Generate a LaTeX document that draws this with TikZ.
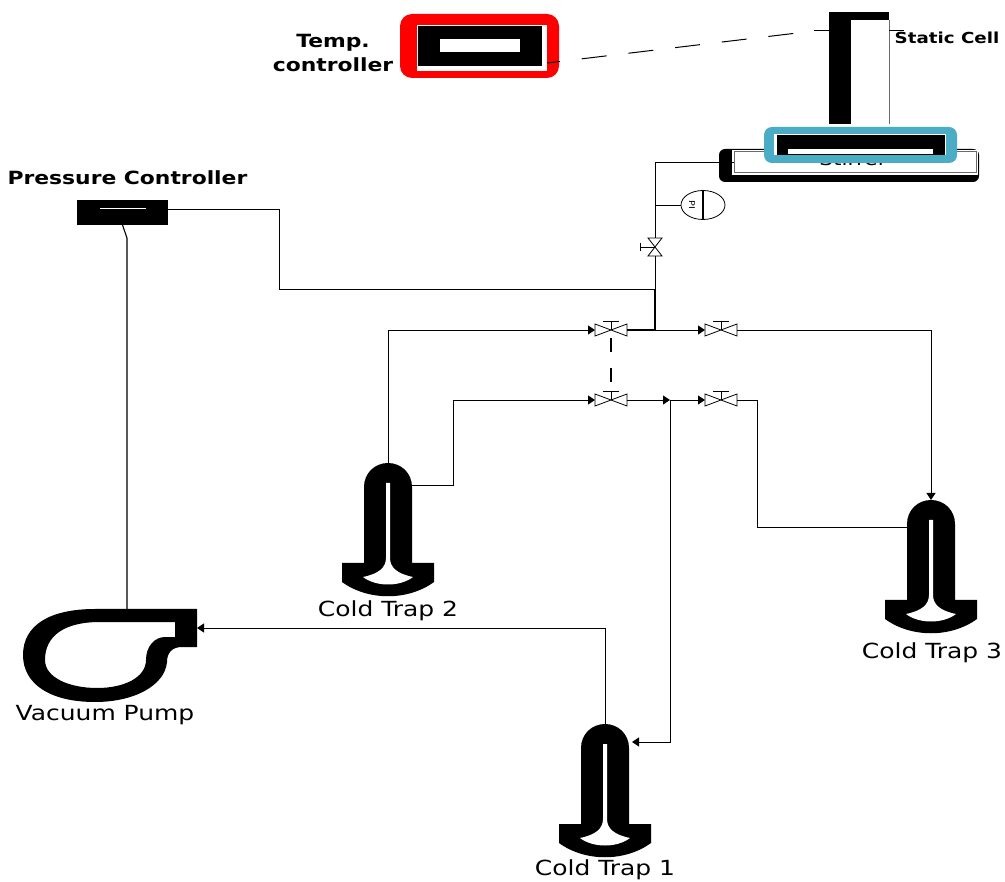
\documentclass[tikz,border=0pt]{standalone}
\usepackage{fontspec}
\usepackage{xcolor}
\usetikzlibrary{arrows.meta,shapes.geometric}
\setmainfont[FakeStretch=1.2]{DejaVu Sans}
\definecolor{ink}{HTML}{000000}
\definecolor{rule}{HTML}{6B6B6B}
\definecolor{heat}{HTML}{FF0000}
\definecolor{bath}{HTML}{4BACC6}
\tikzset{
  plate/.style 2 args={rectangle, inner sep=0pt, outer sep=0pt, minimum width=#1pt, minimum height=#2pt},
  blackfill/.style={fill=ink, draw=none},
  hollow/.style={fill=white, draw=none},
  lbl/.style={font=\fontsize{20.8}{25}\selectfont, align=center, inner sep=0pt},
  blbl/.style={font=\fontsize{18.2}{24}\selectfont\bfseries, align=center, inner sep=0pt},
  pipe/.style={draw=ink, line width=0.9pt},
  fl/.style={pipe, -{Triangle[length=7pt,width=9pt]}},
  sig/.style={draw=ink, line width=1pt, dash pattern=on 25pt off 22pt, dash phase=12pt},
  pics/valve/.style={code={
    \draw[line width=0.8pt, fill=white] (-16,-6) -- (16,6) -- (16,-6) -- (-16,6) -- cycle;
    \draw[line width=0.8pt] (0,0) -- (0,-9) (-8,-9) -- (8,-9);
    \coordinate (-in) at (-16,0);
    \coordinate (-out) at (16,0);
  }},
  pics/vvalve/.style={code={
    \draw[line width=0.8pt, fill=white] (-7,-9) -- (7,9) -- (-7,9) -- (7,-9) -- cycle;
    \draw[line width=0.8pt] (0,0) -- (-15,0) (-15,-4) -- (-15,4);
    \coordinate (-in) at (0,9);
    \coordinate (-out) at (0,-9);
  }},
  pics/coldtrap/.style={code={
    \fill[ink] (-24,100) -- (-24,24) .. controls (-24,10) and (-13,0) .. (0,0)
      .. controls (13,0) and (24,10) .. (24,24) -- (24,100) -- (46,100) -- (46,119)
      .. controls (20,138) and (-20,138) .. (-46,119) -- (-46,100) -- cycle;
    \fill[white] (-2,20) -- (2,20) -- (2,95) .. controls (2,105) and (10,111) .. (25,114)
      .. controls (12,124) and (-12,124) .. (-25,114)
      .. controls (-10,111) and (-2,105) .. (-2,95) -- cycle;
    \coordinate (-top) at (0,0);
    \coordinate (-left) at (-24,22);
    \coordinate (-right) at (24,22);
  }}
}

\begin{document}
\begin{tikzpicture}[x=1pt,y=-1pt]
  \useasboundingbox (0,0) rectangle (1005,882);

  % temperature controller
  \node[plate={159}{64}, fill=heat, rounded corners=12pt] (tcshell) at (479.5,46) {};
  \node[plate={130}{46}, hollow] (tcframe) at (482,48) {};
  \node[plate={124}{40}, blackfill] (tcbody) at (480,46) {};
  \node[plate={80}{13}, hollow] (tcscreen) at (480,45.5) {};
  \node[blbl] (tclabel) at (333,53) {Temp.\\controller};

  % static cell
  \node[plate={60}{112}, hollow] (cell) at (859,68) {};
  \node[plate={22}{112}, blackfill] (cellwall) at (840,68) {};
  \node[plate={60}{8}, blackfill] (celltop) at (859,16) {};
  \coordinate (cellgrip) at (814,31);
  \coordinate (cellgripb) at (904,30);
  \coordinate (cellgripc) at (889,30);
  \draw[rule, line width=1pt] (celltop.south east) -- (cell.south east);
  \draw[line width=1pt] (cellwall.west |- cellgrip) -- (cellgrip);
  \draw[line width=0.8pt] (cellgripc) -- (cellgripb);
  \node[font=\fontsize{15.2}{18}\selectfont\bfseries, inner sep=0pt] (celllabel) at (947,38) {Static Cell};

  % stirrer and bath
  \node[plate={260}{33}, blackfill, rounded corners=6pt] (stirbase) at (849,165.5) {};
  \node[plate={246}{25}, hollow] (stirface) at (855,162.5) {};
  \node[plate={242}{21}, draw=rule, line width=1pt, fill=white] (stirrer) at (855,162.5) {};
  \node[font=\fontsize{18}{23}\selectfont, inner sep=0pt] (stirlabel) at (853,159) {Stirrer};
  \node[plate={193}{36}, fill=bath, rounded corners=8pt] (bathshell) at (860.5,145) {};
  \node[plate={172}{21}, hollow] (bathframe) at (860,144.5) {};
  \node[plate={168}{20}, blackfill] (bathbody) at (861,145) {};
  \node[plate={145}{5}, hollow] (bathslot) at (860.5,151.5) {};

  % pressure controller
  \node[blbl] (pclabel) at (127.5,178) {Pressure Controller};
  \node[plate={91}{25}, blackfill] (pc) at (122.5,212.5) {};
  \node[plate={46}{1}, hollow] (pcscreen) at (123,209) {};

  % pressure indicator
  \node[ellipse, inner sep=0pt, minimum width=44pt, minimum height=29pt, draw=ink, line width=0.8pt, fill=white] (pind) at (703,205) {};
  \draw[line width=1.1pt] (pind.north) -- (pind.south);
  \node[font=\fontsize{8}{9}\selectfont, rotate=-90, inner sep=0pt] (pindtext) at (692,205) {PI};

  % vacuum pump
  \fill[ink, even odd rule] (197,609) -- (197,647) -- (182,647) .. controls (172,647) and (167,653) .. (167,662)
    .. controls (165,685) and (135,702) .. (95,702) .. controls (50,702) and (23,684) .. (23,655)
    .. controls (23,625) and (50,609) .. (95,609) -- cycle
    (175,622) -- (100,622) .. controls (64,622) and (45,636) .. (45,660)
    .. controls (45,678) and (70,688) .. (97,688) .. controls (125,688) and (146,677) .. (146,660)
    .. controls (146,646) and (155,637) .. (165,637) -- (175,637) -- cycle;
  \coordinate (pumptop) at (127,609);
  \coordinate (pumpin) at (197,628);
  \node[lbl] (pumplabel) at (105,715) {Vacuum Pump};

  % cold traps
  \pic (trapa) at (605,724) {coldtrap};
  \pic (trapb) at (388,463) {coldtrap};
  \pic (trapc) at (931,500) {coldtrap};
  \node[lbl] (trapalabel) at (605,870) {Cold Trap 1};
  \node[lbl] (trapblabel) at (388,611) {Cold Trap 2};
  \node[lbl] (trapclabel) at (932,653) {Cold Trap 3};

  % valves
  \pic (va) at (611,330) {valve};
  \pic (vb) at (721,330) {valve};
  \pic (vc) at (611,400) {valve};
  \pic (vd) at (721,400) {valve};
  \pic (ve) at (655,247) {vvalve};
  \coordinate (junctop) at (655,330);
  \coordinate (junclow) at (670,400);
  \coordinate (tapmain) at (655,289);
  \coordinate (tappi) at (655,205);
  \coordinate (bendb) at (453,400);
  \coordinate (bendc) at (757,400);
  \coordinate (bendr) at (931,330);
  \coordinate (pcbend) at (127,238);
  \coordinate (pcrun) at (279,209);
  \coordinate (trapafeed) at (670,742);
  \coordinate (trapain) at (632,742);
  \coordinate (trapcin) at (908,527);
  \coordinate (stemtop) at (611,338);
  \coordinate (stemlow) at (611,384);

  % piping
  \draw[fl] (trapb-top) |- (va-in);
  \draw[pipe] (trapb-right) -| (bendb);
  \draw[fl] (bendb) -- (vc-in);
  \draw[fl] (vc-out) -- (junclow);
  \draw[fl] (junclow) -- (vd-in);
  \draw[fl] (junclow) -- (trapafeed) -- (trapain);
  \draw[pipe, line width=1.2pt] (va-out) -- (junctop);
  \draw[fl] (junctop) -- (vb-in);
  \draw[fl] (vb-out) -- (bendr) -- (trapc-top);
  \draw[pipe, line width=1.2pt] (junctop) -- (tapmain);
  \draw[pipe] (tapmain) -- (ve-in);
  \draw[pipe] (ve-out) |- (stirrer.west);
  \draw[pipe] (tappi) -- (pind.west);
  \draw[pipe] (vd-out) -- (bendc) |- (trapcin);
  \draw[fl] (trapa-top) |- (pumpin);
  \draw[pipe] ([yshift=3.5pt]pc.east) -- (pcrun) |- (tapmain);
  \draw[pipe, line width=1.1pt] (pc.south) -- (pcbend) -- (pumptop);
  \draw[line width=1.2pt, dash pattern=on 14pt off 16pt] (stemtop) -- (stemlow);
  \draw[sig] ([yshift=-15pt]tcframe.east) -- (cellgrip);
\end{tikzpicture}
\end{document}
